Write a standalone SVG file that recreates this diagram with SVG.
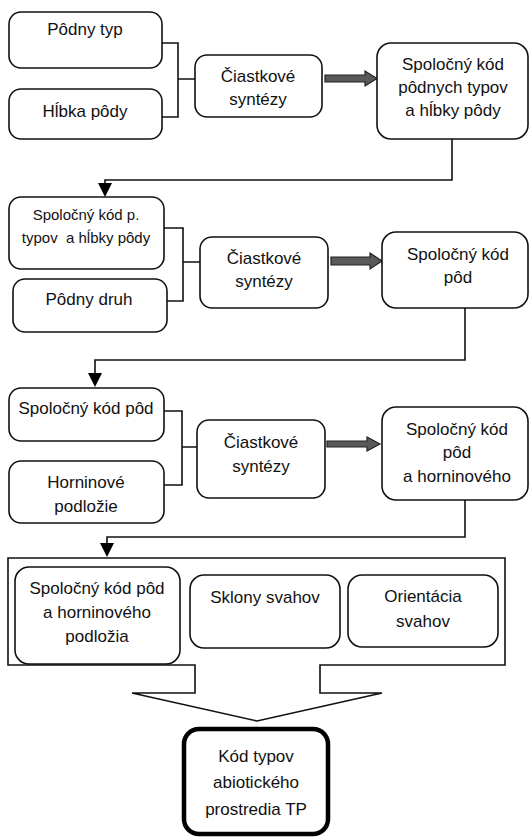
<svg xmlns="http://www.w3.org/2000/svg" width="530" height="838" viewBox="0 0 530 838">
<defs>
<style>
.box{fill:#fff;stroke:#111;stroke-width:1.6}
.thick{fill:#fff;stroke:#000;stroke-width:4.5}
.t{font-family:"Liberation Sans",Arial,sans-serif;font-size:17px;fill:#111;text-anchor:middle}
.s{font-size:15px}
.ln{fill:none;stroke:#111;stroke-width:1.6}
.fat{fill:#595959;stroke:#222;stroke-width:1.2}
</style>
<marker id="ah" viewBox="0 0 10 10" refX="10" refY="5" markerWidth="9" markerHeight="8" markerUnits="userSpaceOnUse" orient="auto" preserveAspectRatio="none">
<path d="M0,0 L10,5 L0,10 Z" fill="#000"/>
</marker>
</defs>
<rect width="530" height="838" fill="#fff"/>

<g id="connectors">
<path class="ln" d="M162,43 H178 V117 H162 M178,79 H195"/>
<path class="ln" d="M164,228 H183 V301 H167 M183,262 H200"/>
<path class="ln" d="M164,411 H182 V485 H164 M182,447 H197"/>
<polygon class="fat" points="325,75 365,75 365,71 377,78.5 365,86 365,82 325,82"/>
<polygon class="fat" points="331,257 370,257 370,253 382,261 370,269 370,265 331,265"/>
<polygon class="fat" points="327,441 367,441 367,437 380,444 367,451 367,447 327,447"/>
<path class="ln" d="M452,139 V180 H105 V184"/>
<polygon points="98,183 112,183 105,197" fill="#000"/>
<path class="ln" d="M465,308 V360 H95 V374"/>
<polygon points="88,373 102,373 95,387" fill="#000"/>
<path class="ln" d="M465,500 V537 H107 V544"/>
<polygon points="100,543 114,543 107,557" fill="#000"/>
</g>

<g id="container">
<path class="box" d="M8,558 H505 V665 H320 V693 H382 L257,721 L132,693 H195 V665 H8 Z"/>
</g>

<g id="podny-typ">
<rect class="box" x="9" y="12" width="153" height="56" rx="12"/>
<text class="t" x="85" y="35">Pôdny typ</text>
</g>
<g id="hlbka-pody">
<rect class="box" x="9" y="89" width="153" height="50" rx="12"/>
<text class="t" x="85" y="117">Hĺbka pôdy</text>
</g>
<g id="ciastkove-1">
<rect class="box" x="195" y="55" width="127" height="62" rx="12"/>
<text class="t" x="258" y="82">Čiastkové</text>
<text class="t" x="258" y="105">syntézy</text>
</g>
<g id="spolocny-1">
<rect class="box" x="377" y="43" width="151" height="96" rx="14"/>
<text class="t" x="453" y="70">Spoločný kód</text>
<text class="t" x="453" y="93">pôdnych typov</text>
<text class="t" x="453" y="116">a hĺbky pôdy</text>
</g>

<g id="spolocny-p-typov">
<rect class="box" x="9" y="197" width="155" height="72" rx="12"/>
<text class="t s" x="86" y="220">Spoločný kód p.</text>
<text class="t s" x="86" y="243" xml:space="preserve">typov  a hĺbky pôdy</text>
</g>
<g id="podny-druh">
<rect class="box" x="13" y="279" width="154" height="53" rx="12"/>
<text class="t" x="89" y="305">Pôdny druh</text>
</g>
<g id="ciastkove-2">
<rect class="box" x="200" y="237" width="128" height="71" rx="12"/>
<text class="t" x="264" y="264">Čiastkové</text>
<text class="t" x="264" y="287">syntézy</text>
</g>
<g id="spolocny-pod">
<rect class="box" x="382" y="232" width="146" height="76" rx="14"/>
<text class="t" x="458" y="260">Spoločný kód</text>
<text class="t" x="458" y="283">pôd</text>
</g>

<g id="spolocny-pod-2">
<rect class="box" x="9" y="388" width="155" height="53" rx="12"/>
<text class="t" x="86" y="414">Spoločný kód pôd</text>
</g>
<g id="horninove">
<rect class="box" x="9" y="461" width="155" height="62" rx="12"/>
<text class="t" x="86" y="488">Horninové</text>
<text class="t" x="86" y="512">podložie</text>
</g>
<g id="ciastkove-3">
<rect class="box" x="197" y="420" width="128" height="78" rx="12"/>
<text class="t" x="261" y="448">Čiastkové</text>
<text class="t" x="261" y="472">syntézy</text>
</g>
<g id="spolocny-pod-horn">
<rect class="box" x="382" y="407" width="146" height="93" rx="14"/>
<text class="t" x="457" y="435">Spoločný kód</text>
<text class="t" x="457" y="458">pôd</text>
<text class="t" x="457" y="482">a horninového</text>
</g>

<g id="spolocny-podlozia">
<rect class="box" x="15" y="567" width="165" height="97" rx="14"/>
<text class="t" x="97" y="594">Spoločný kód pôd</text>
<text class="t" x="97" y="618">a horninového</text>
<text class="t" x="97" y="642">podložia</text>
</g>
<g id="sklony">
<rect class="box" x="190" y="575" width="150" height="73" rx="14"/>
<text class="t" x="265" y="603">Sklony svahov</text>
</g>
<g id="orientacia">
<rect class="box" x="348" y="575" width="150" height="72" rx="14"/>
<text class="t" x="423" y="602">Orientácia</text>
<text class="t" x="423" y="627">svahov</text>
</g>

<g id="kod-typov">
<rect class="thick" x="184" y="729" width="144" height="105" rx="15"/>
<text class="t" x="256" y="762">Kód typov</text>
<text class="t" x="256" y="788">abiotického</text>
<text class="t" x="256" y="815">prostredia TP</text>
</g>
</svg>
